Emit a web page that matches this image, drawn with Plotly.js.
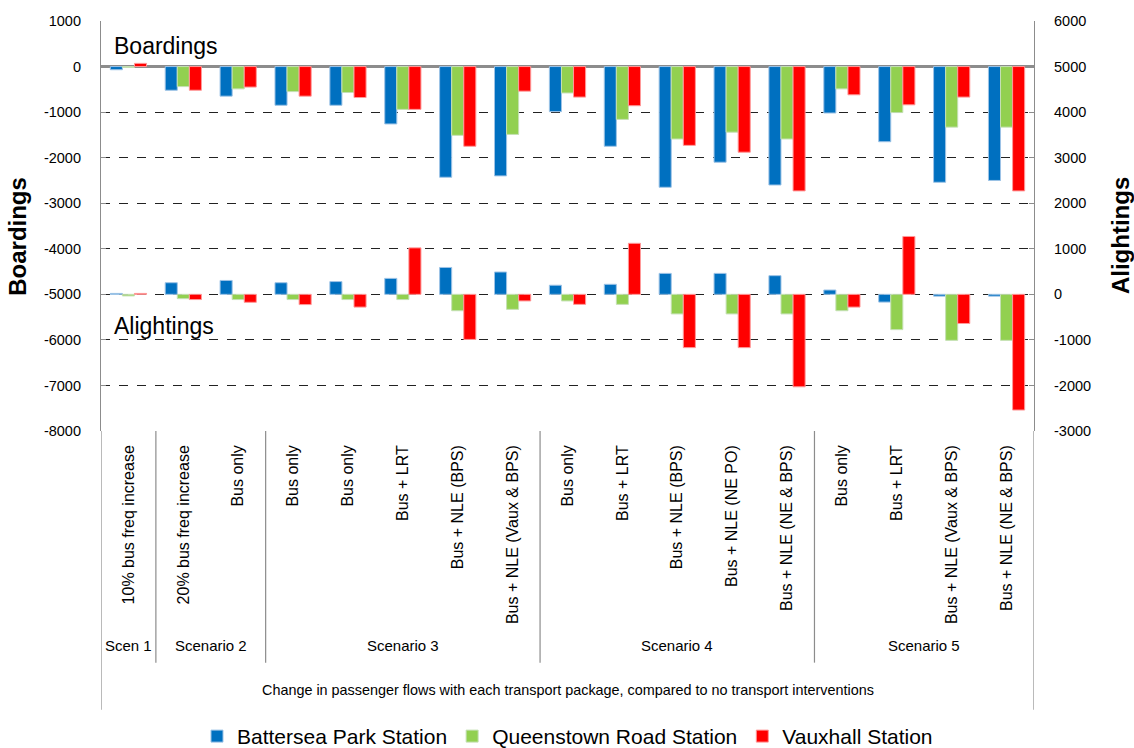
<!DOCTYPE html>
<html>
<head>
<meta charset="utf-8">
<script src="https://cdn.plot.ly/plotly-3.0.1.min.js"></script>
<style>html,body{margin:0;padding:0;background:#fff;}#chart{width:1134px;height:748px;}</style>
</head>
<body>
<div id="chart"></div>
<script>
const categories = [
  "10% bus freq increase",
  "20% bus freq increase", "Bus only",
  "Bus only", "Bus only", "Bus + LRT", "Bus + NLE (BPS)", "Bus + NLE (Vaux & BPS)",
  "Bus only", "Bus + LRT", "Bus + NLE (BPS)", "Bus + NLE (NE PO)", "Bus + NLE (NE & BPS)",
  "Bus only", "Bus + LRT", "Bus + NLE (Vaux & BPS)", "Bus + NLE (NE & BPS)"
];
const scenarios = ["Scen 1", "Scenario 2", "Scenario 3", "Scenario 4", "Scenario 5"];
const scenarioSizes = [1, 2, 5, 5, 4];
const stations = ["Battersea Park Station", "Queenstown Road Station", "Vauxhall Station"];
const colors = ["#0070C0", "#92D050", "#FF0000"];
const edgeColors = ["#9DC3E6", "#C5E0B4", "#FF9999"];

// Boardings (left axis)
const boardBattersea = [-70, -520, -650, -850, -850, -1260, -2430, -2400, -990, -1750, -2650, -2100, -2600, -1020, -1650, -2540, -2500];
const boardQueenstown = [-20, -440, -490, -550, -570, -940, -1510, -1490, -580, -1160, -1590, -1440, -1590, -490, -1010, -1330, -1330];
const boardVauxhall = [70, -520, -450, -650, -680, -940, -1750, -540, -670, -860, -1730, -1880, -2730, -620, -840, -670, -2730];

// Alightings (right axis)
const alightBattersea = [20, 255, 305, 255, 280, 350, 590, 490, 200, 220, 460, 460, 410, 95, -170, -40, -40];
const alightQueenstown = [-35, -95, -115, -115, -115, -115, -360, -330, -145, -220, -430, -430, -430, -360, -775, -1010, -1010];
const alightVauxhall = [20, -115, -175, -225, -280, 1020, -990, -145, -220, 1120, -1170, -1170, -2030, -280, 1270, -640, -2540];

// Axis ticks
const leftTicks = [1000, 0, -1000, -2000, -3000, -4000, -5000, -6000, -7000, -8000];
const rightTicks = [6000, 5000, 4000, 3000, 2000, 1000, 0, -1000, -2000, -3000];

const boardings = [boardBattersea, boardQueenstown, boardVauxhall];
const alightings = [alightBattersea, alightQueenstown, alightVauxhall];

const xPos = categories.map((_, i) => i);
const FONT = '"Liberation Sans", Arial, sans-serif';

const traces = [];
for (let s = 0; s < 3; s++) {
  traces.push({
    type: 'bar', x: xPos, y: boardings[s], name: stations[s],
    xaxis: 'x', yaxis: 'y', offsetgroup: String(s), legendgroup: String(s),
    marker: {color: colors[s], line: {color: edgeColors[s], width: 1}},
    hovertemplate: '%{y}<extra>' + stations[s] + ' boardings</extra>'
  });
}
for (let s = 0; s < 3; s++) {
  traces.push({
    type: 'bar', x: xPos, y: alightings[s], name: stations[s],
    xaxis: 'x', yaxis: 'y2', offsetgroup: String(s), legendgroup: String(s), showlegend: false,
    marker: {color: colors[s], line: {color: edgeColors[s], width: 1}},
    hovertemplate: '%{y}<extra>' + stations[s] + ' alightings</extra>'
  });
}

// scenario separators and labels
const shapes = [];
const annotations = [];
let start = 0;
for (let g = 0; g < scenarios.length; g++) {
  const end = start + scenarioSizes[g];
  annotations.push({
    text: scenarios[g], xref: 'x', yref: 'paper', x: (start + end - 1) / 2, y: -0.522,
    showarrow: false, font: {family: FONT, size: 15, color: '#000'}, xanchor: 'center', yanchor: 'middle'
  });
  if (g < scenarios.length - 1) {
    shapes.push({type: 'line', xref: 'x', yref: 'paper', x0: end - 0.5, x1: end - 0.5, y0: 0, y1: -0.565,
      line: {color: '#8c8c8c', width: 1.2}});
  }
  start = end;
}
shapes.push({type: 'line', xref: 'x', yref: 'paper', x0: -0.5, x1: -0.5, y0: 0, y1: -0.68, line: {color: '#8c8c8c', width: 1.2}});
shapes.push({type: 'line', xref: 'x', yref: 'paper', x0: categories.length - 0.5, x1: categories.length - 0.5, y0: 0, y1: -0.68, line: {color: '#8c8c8c', width: 1.2}});

annotations.push({
  text: 'Change in passenger flows with each transport package, compared to no transport interventions',
  xref: 'paper', yref: 'paper', x: 0.5, y: -0.632, showarrow: false,
  font: {family: FONT, size: 14.4, color: '#000'}, xanchor: 'center', yanchor: 'middle'
});
annotations.push({text: 'Boardings', xref: 'paper', yref: 'paper', x: 0.012, y: 0.939, showarrow: false,
  xanchor: 'left', yanchor: 'middle', font: {family: FONT, size: 23, color: '#000'}});
annotations.push({text: 'Alightings', xref: 'paper', yref: 'paper', x: 0.012, y: 0.256, showarrow: false,
  xanchor: 'left', yanchor: 'middle', font: {family: FONT, size: 23, color: '#000'}});
// axis titles
annotations.push({text: '<b>Boardings</b>', xref: 'paper', yref: 'paper', x: -0.089, y: 0.476, textangle: -90,
  showarrow: false, xanchor: 'center', yanchor: 'middle', font: {family: FONT, size: 24, color: '#000'}});
annotations.push({text: '<b>Alightings</b>', xref: 'paper', yref: 'paper', x: 1.0935, y: 0.476, textangle: -90,
  showarrow: false, xanchor: 'center', yanchor: 'middle', font: {family: FONT, size: 24, color: '#000'}});

const layout = {
  width: 1134, height: 748,
  margin: {l: 101, r: 100, t: 21, b: 317, autoexpand: false},
  paper_bgcolor: '#fff', plot_bgcolor: '#fff',
  font: {family: FONT, size: 14, color: '#000'},
  barmode: 'group', bargap: 0.34, bargroupgap: 0,
  showlegend: true,
  legend: {orientation: 'h', x: 0.5, xanchor: 'center', y: -0.745, yanchor: 'middle',
    font: {family: FONT, size: 21, color: '#000'}, itemwidth: 30, traceorder: 'normal'},
  xaxis: {
    range: [-0.5, categories.length - 0.5], tickmode: 'array', tickvals: xPos, ticktext: categories,
    tickangle: -90, ticks: '', showgrid: false, zeroline: false, showline: false, ticklabelstandoff: 10,
    tickfont: {family: FONT, size: 16, color: '#000'}, fixedrange: true, automargin: false
  },
  yaxis: {
    range: [-8000, 1000], tickmode: 'array', tickvals: leftTicks, ticktext: leftTicks.map(String),
    showgrid: true, gridcolor: '#222', griddash: 'dash', gridwidth: 1,
    zeroline: true, zerolinecolor: '#8c8c8c', zerolinewidth: 2.5,
    showline: true, linecolor: '#8c8c8c', linewidth: 1.2, ticks: 'inside', ticklen: 5, tickcolor: '#8c8c8c',
    tickfont: {family: FONT, size: 14.5, color: '#000'}, ticklabelstandoff: 16, automargin: false
  },
  yaxis2: {
    range: [-3000, 6000], tickmode: 'array', tickvals: rightTicks, ticktext: rightTicks.map(String),
    overlaying: 'y', side: 'right', showgrid: false, zeroline: false,
    showline: true, linecolor: '#8c8c8c', linewidth: 1.2, ticks: 'inside', ticklen: 5, tickcolor: '#8c8c8c',
    tickfont: {family: FONT, size: 14.5, color: '#000'}, ticklabelstandoff: 16, automargin: false
  },
  shapes: shapes,
  annotations: annotations
};

Plotly.newPlot('chart', traces, layout, {displayModeBar: false});
</script>
</body>
</html>
